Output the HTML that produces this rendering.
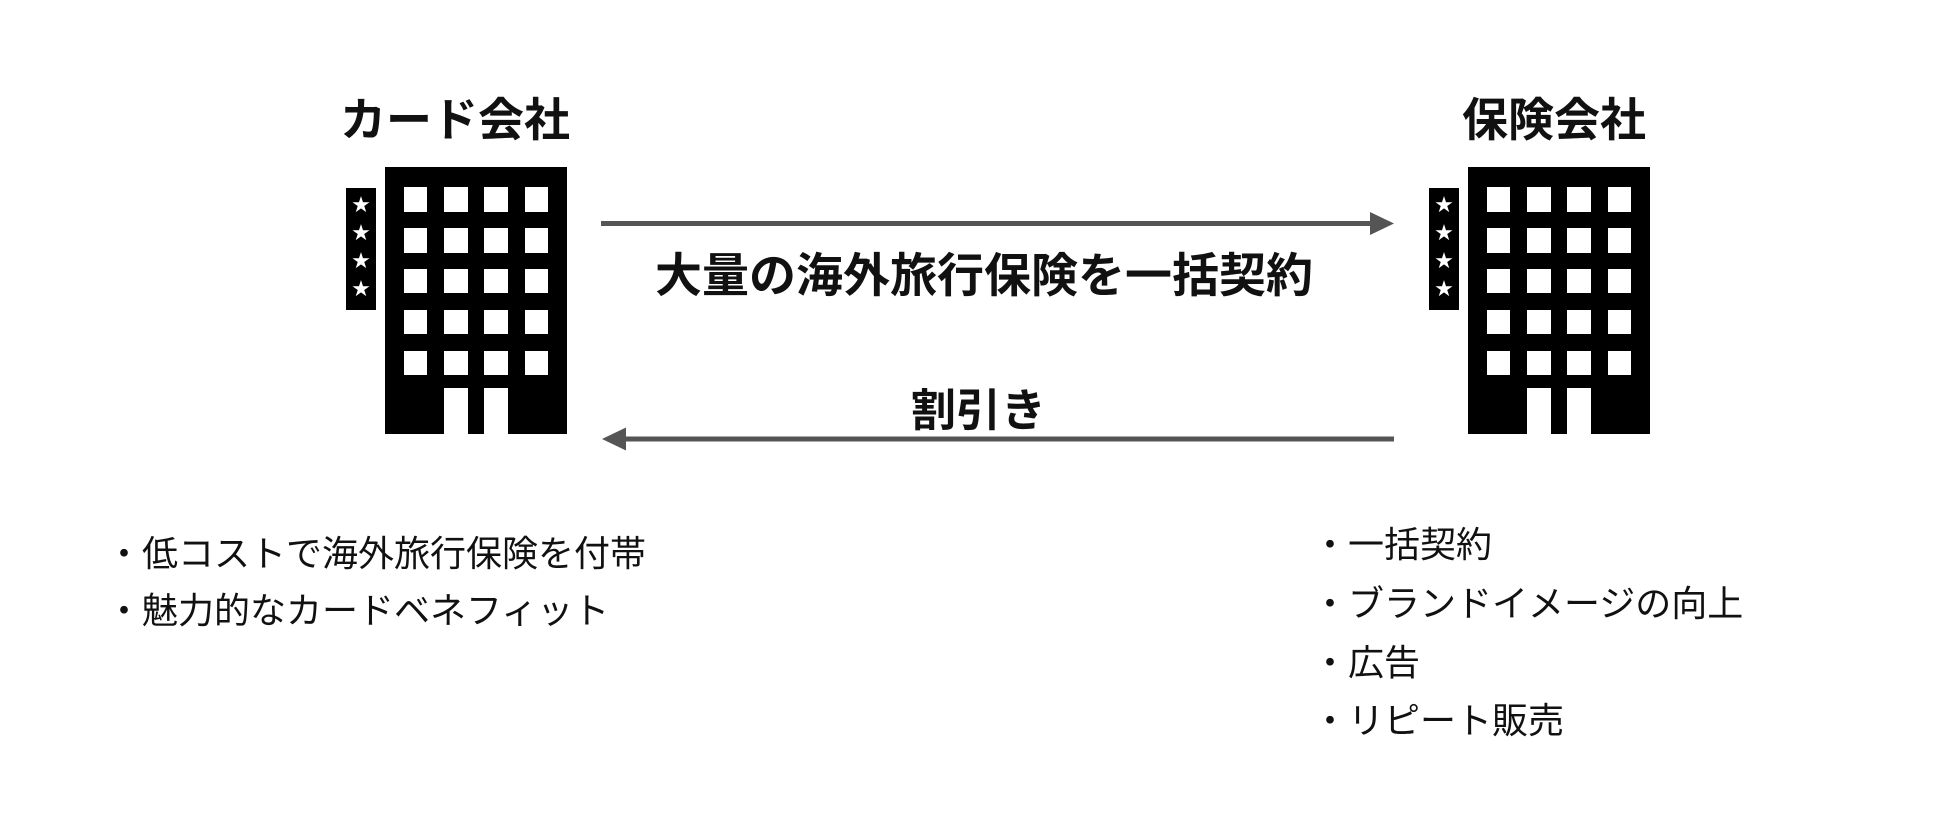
<!DOCTYPE html>
<html><head><meta charset="utf-8"><style>
body{margin:0;width:1956px;height:820px;background:#fff;position:relative;overflow:hidden;font-family:"Liberation Sans","Noto Sans CJK JP",sans-serif;color:#111}
.a{position:absolute;white-space:nowrap}
.t{font-weight:bold;font-size:46px;line-height:1}
.l{font-size:36px;line-height:1}
</style></head><body>
<div class="a t" style="left:340px;top:97px">カード会社</div>
<div class="a t" style="left:1462px;top:97px">保険会社</div>

<svg class="a" style="left:0;top:0" width="1956" height="820">
<defs>
<g id="b">
<rect x="0" y="0" width="182" height="267" fill="#000"/>
<g fill="#fff">
<rect x="19" y="20" width="23" height="25"/><rect x="59" y="20" width="24" height="25"/><rect x="99" y="20" width="24" height="25"/><rect x="140" y="20" width="23" height="25"/>
<rect x="19" y="61" width="23" height="25"/><rect x="59" y="61" width="24" height="25"/><rect x="99" y="61" width="24" height="25"/><rect x="140" y="61" width="23" height="25"/>
<rect x="19" y="102" width="23" height="24"/><rect x="59" y="102" width="24" height="24"/><rect x="99" y="102" width="24" height="24"/><rect x="140" y="102" width="23" height="24"/>
<rect x="19" y="143" width="23" height="24"/><rect x="59" y="143" width="24" height="24"/><rect x="99" y="143" width="24" height="24"/><rect x="140" y="143" width="23" height="24"/>
<rect x="19" y="184" width="23" height="24"/><rect x="59" y="184" width="24" height="24"/><rect x="99" y="184" width="24" height="24"/><rect x="140" y="184" width="23" height="24"/>
<rect x="59" y="221" width="24" height="46"/><rect x="99" y="221" width="24" height="46"/>
</g>
<rect x="-39" y="21" width="30" height="122" fill="#000"/>
<g fill="#fff" font-size="22" text-anchor="middle" font-family="DejaVu Sans">
<text x="-24" y="45">★</text><text x="-24" y="73">★</text><text x="-24" y="101">★</text><text x="-24" y="129">★</text>
</g>
</g>
</defs>
<use href="#b" x="385" y="167"/>
<use href="#b" x="1468" y="167"/>
<line x1="601" y1="223.5" x2="1372" y2="223.5" stroke="#555" stroke-width="5"/>
<polygon points="1370,212 1394,223.5 1370,235" fill="#555"/>
<line x1="624" y1="439" x2="1394" y2="439" stroke="#555" stroke-width="5"/>
<polygon points="626,427.5 602,439 626,450.5" fill="#555"/>
</svg>

<div class="a" style="left:655px;top:252px;font-weight:bold;font-size:47px;line-height:1">大量の海外旅行保険を一括契約</div>
<div class="a" style="left:911px;top:388px;font-weight:bold;font-size:45px;line-height:1">割引き</div>

<div class="a l" style="left:106px;top:536px">・低コストで海外旅行保険を付帯</div>
<div class="a l" style="left:106px;top:593px">・魅力的なカードベネフィット</div>

<div class="a l" style="left:1312px;top:527px">・一括契約</div>
<div class="a l" style="left:1312px;top:586px">・ブランドイメージの向上</div>
<div class="a l" style="left:1312px;top:645px">・広告</div>
<div class="a l" style="left:1312px;top:703px">・リピート販売</div>
</body></html>
